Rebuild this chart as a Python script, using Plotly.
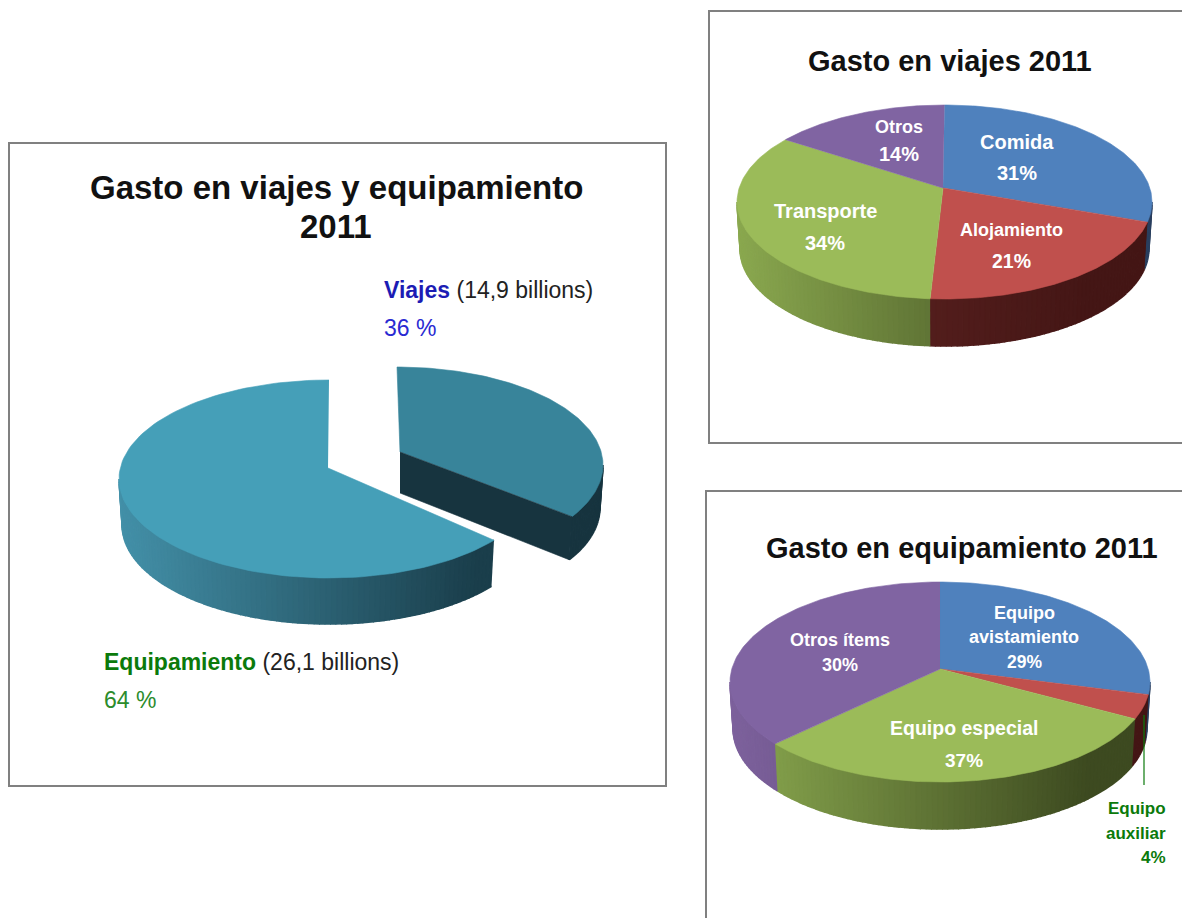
import numpy as np
import plotly.graph_objects as go

# ---- data ----
overview_names = ["Viajes", "Equipamiento"]
overview_shares = [36, 64]
overview_billions = ["14,9", "26,1"]

trip_names = ["Comida", "Alojamiento", "Transporte", "Otros"]
trip_shares = [31, 21, 34, 14]

gear_names = ["Equipo avistamiento", "Equipo auxiliar", "Equipo especial", "Otros ítems"]
gear_shares = [29, 4, 37, 30]

title_overview = ["Gasto en viajes y equipamiento", "2011"]
title_trip = "Gasto en viajes 2011"
title_gear = "Gasto en equipamiento 2011"

# ---- styling ----
FONT = "Liberation Sans"
BLUE, RED, GREEN, PURPLE = "#4f81bd", "#c0504d", "#9bbb59", "#8064a2"
WALLS = {
    BLUE: ("#3b6190", "#2a3f5f"),
    RED: ("#642624", "#441615"),
    GREEN: ("#8aa84f", "#3d4a20"),
    PURPLE: ("#7d619c", "#4a3a66"),
    "#459fb8": ("#4390a8", "#1a3e4b"),
    "#38849a": ("#17343f", "#17343f"),
}


def rgb(h):
    return np.array([int(h[i:i + 2], 16) for i in (1, 3, 5)], dtype=float)


def mix(a, b, t):
    t = min(max(t, 0.0), 1.0)
    c = rgb(a) * (1 - t) + rgb(b) * t
    return "rgb(%d,%d,%d)" % tuple(c.round())


fig = go.Figure()


def poly(xs, ys, color, name=None, lw=0.6):
    fig.add_trace(go.Scatter(x=list(xs), y=list(ys), mode="lines", fill="toself",
                             fillcolor=color, line=dict(color=color, width=lw),
                             hoverinfo="skip", showlegend=False, name=name))


def pie3d(names, shares, colors, squeeze, start, cx, cy, rx, ry, ax, ay, depth):
    """Clockwise oblique pie. squeeze = projection factor on each slice's sweep."""
    def rim(th, dy=0.0, k=1.0):
        r = np.radians(th)
        return cx + k * rx * np.sin(r), cy - ry * np.cos(r) + dy

    sweeps = np.array(shares) * 3.6 * np.array(squeeze)
    if sum(shares) == 100:
        sweeps = sweeps * 360 / sweeps.sum()
    edges = start + np.concatenate([[0], np.cumsum(sweeps)])
    # outer walls first
    for i, col in enumerate(colors):
        lo, hi = max(edges[i], 90), min(edges[i + 1], 270)
        if hi <= lo:
            continue
        n = max(int((hi - lo) / 1.5), 1)
        grid = np.linspace(lo, hi, n + 1)
        for a, b in zip(grid[:-1], grid[1:]):
            th = np.linspace(a, b, 4)
            xt, yt = rim(th)
            xb, yb = rim(th[::-1], depth, 0.985)
            t = (rim((a + b) / 2)[0] - (cx - rx)) / (2 * rx) / 0.85
            poly(np.r_[xt, xb], np.r_[yt, yb], mix(*WALLS[col], t), names[i], lw=1.6)
    # top faces
    for i, col in enumerate(colors):
        th = np.linspace(edges[i], edges[i + 1], 120)
        xt, yt = rim(th)
        poly(np.r_[ax, xt], np.r_[ay, yt], col, names[i])
    return rim


# left overview: two pieces pulled apart
eq_color, vi_color = "#459fb8", "#38849a"
eq_sweep = overview_shares[1] * 3.6 * 1.006
pie3d([overview_names[1]], [overview_shares[1]], [eq_color], [1.006], 360 - eq_sweep,
      329, 479, 210, 99, 328, 468, 46)

vi_sq = 0.94
vi_end = overview_shares[0] * 3.6 * vi_sq
_r = np.radians(vi_end)
vx, vy = 397 + 206 * np.sin(_r), 465 - 98 * np.cos(_r)
pie3d([overview_names[0]], [overview_shares[0]], [vi_color], [vi_sq], 0,
      397, 465, 206, 98, 400, 452, 43)
poly([400, vx, vx - 3, 400], [452, vy, vy + 43, 493], "#17343f", "corte")

pie3d(trip_names, trip_shares, [BLUE, RED, GREEN, PURPLE], [0.914, 1.085, 1.03, 0.992], 0,
      944.5, 202, 207.5, 97, 943, 188, 47)

pie3d(gear_names, gear_shares, [BLUE, RED, GREEN, PURPLE], [0.93, 1.0, 0.90, 1.185], 0,
      940, 682, 210, 100, 940, 669, 47)


def txt(x, y, s, size, color="white", bold=True, anchor="center"):
    shift = {"center": 0, "left": -2, "right": 2}[anchor]
    fig.add_annotation(x=x, y=y, text=f"<b>{s}</b>" if bold else s, showarrow=False,
                       xanchor=anchor, yanchor="middle", align=anchor, xshift=shift,
                       font=dict(family=FONT, size=size, color=color))


# titles
txt(336, 187, title_overview[0], 33, "#111111")
txt(336, 226, title_overview[1], 33, "#111111")
txt(950, 61, title_trip, 29, "#111111")
txt(962, 548, title_gear, 29, "#111111")

# overview labels
DB, DG = "#1c1cb4", "#0b7a0b"
for x, y, name, amount, share, c1, c2 in [
    (384, 290, overview_names[0], overview_billions[0], overview_shares[0], DB, "#2a2ad2"),
    (104, 662, overview_names[1], overview_billions[1], overview_shares[1], DG, "#2c8c2c"),
]:
    fig.add_annotation(x=x, y=y, showarrow=False, xanchor="left", yanchor="middle", xshift=-2,
                       text=f"<b><span style='color:{c1}'>{name}</span></b> "
                            f"<span style='color:#222222'>({amount} billions)</span>",
                       font=dict(family=FONT, size=23))
    fig.add_annotation(x=x, y=y + 38, showarrow=False, xanchor="left", yanchor="middle", xshift=-2,
                       text=f"{share} %", font=dict(family=FONT, size=23, color=c2))

# trip labels
txt(1017, 142, trip_names[0], 20)
txt(1017, 173, f"{trip_shares[0]}%", 20)
txt(1011, 230, trip_names[1], 18)
txt(1011, 261, f"{trip_shares[1]}%", 19.5)
txt(825, 211, trip_names[2], 20)
txt(825, 243, f"{trip_shares[2]}%", 20)
txt(899, 127, trip_names[3], 18)
txt(899, 154, f"{trip_shares[3]}%", 20)

# gear labels
a, b = gear_names[0].split(" ")
txt(1024, 613, a, 18)
txt(1024, 637, b, 18)
txt(1024, 662, f"{gear_shares[0]}%", 17.5)
txt(964, 728, gear_names[2], 19.5)
txt(964, 760, f"{gear_shares[2]}%", 19)
txt(840, 640, gear_names[3], 18)
txt(840, 665, f"{gear_shares[3]}%", 18)
a, b = gear_names[1].split(" ")
txt(1166, 808, a, 17, DG, anchor="right")
txt(1166, 833, b, 17, DG, anchor="right")
txt(1166, 857, f"{gear_shares[1]}%", 17, DG, anchor="right")

# frames and the leader line
GREY = dict(color="#808080", width=2)
shapes = [
    dict(type="rect", x0=9, y0=143, x1=666, y1=786, line=GREY),
    dict(type="rect", x0=709, y0=11, x1=1195, y1=443, line=GREY),
    dict(type="rect", x0=706, y0=491, x1=1195, y1=930, line=GREY),
    dict(type="line", x0=1144, y0=715, x1=1144, y1=785, line=dict(color=DG, width=1.2)),
]

fig.update_layout(
    width=1182, height=918, margin=dict(l=0, r=0, t=0, b=0),
    paper_bgcolor="white", plot_bgcolor="white", showlegend=False,
    shapes=shapes,
    xaxis=dict(range=[0, 1182], visible=False, fixedrange=True),
    yaxis=dict(range=[918, 0], visible=False, fixedrange=True),
)
fig.write_html("out.html", post_script="document.body.style.margin='0';document.body.style.overflow='hidden';",
               config=dict(displayModeBar=False))
